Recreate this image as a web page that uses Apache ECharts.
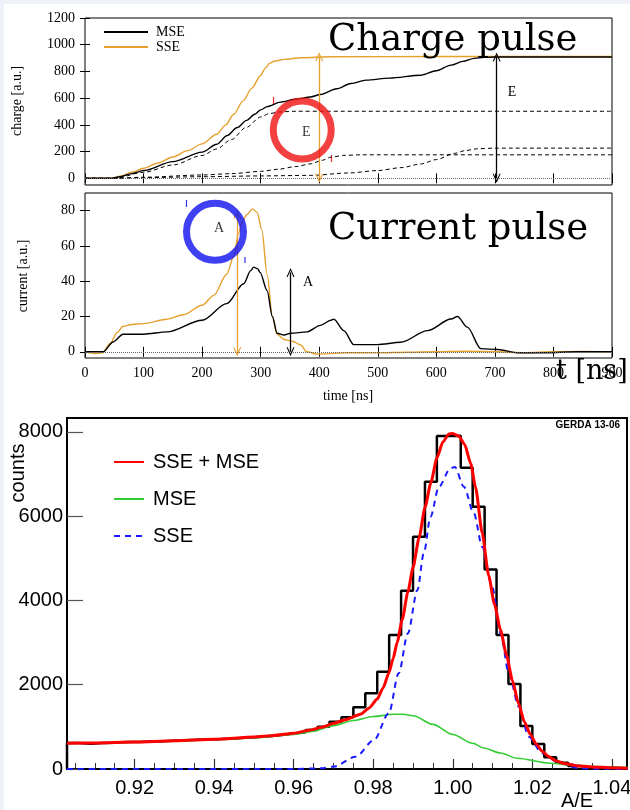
<!DOCTYPE html>
<html><head><meta charset="utf-8">
<script src="https://cdn.jsdelivr.net/npm/echarts@6/dist/echarts.min.js"></script>
<style>html,body{margin:0;padding:0;background:#fff;} #c{width:630px;height:810px;}</style>
</head><body><div id="c"></div>
<script>
// ---------- Panel 1: charge pulse (t [ns], charge [a.u.]) ----------
const chargeSSE = [[0,0],[45,0],[60,15],[80,45],[100,75],[125,115],[150,160],[175,207],[200,258],[225,330],[240,398],[254,480],[270,580],[285,675],[300,772],[308,825],[315,860],[325,878],[340,890],[370,903],[420,910],[600,912],[900,912]];
const chargeMSE = [[0,0],[45,0],[60,12],[80,35],[100,58],[150,125],[200,196],[225,255],[243,321],[260,380],[276,434],[290,480],[300,512],[311,537],[334,570],[360,592],[385,609],[402,627],[430,670],[454,710],[480,735],[520,750],[574,772],[600,805],[625,847],[645,875],[665,898],[682,905],[700,908],[900,908]];
const chargeComp1 = [[0,0],[50,0],[100,45],[150,100],[200,171],[225,220],[250,290],[275,380],[300,459],[315,485],[335,498],[360,502],[900,502]];
const chargeComp2 = [[0,0],[50,0],[100,8],[200,25],[250,35],[300,52],[330,68],[360,88],[385,108],[405,135],[420,158],[442,172],[470,176],[900,176]];
const chargeComp3 = [[0,0],[50,0],[100,5],[200,12],[300,18],[385,22],[450,40],[500,58],[540,80],[574,108],[600,140],[631,187],[650,208],[670,221],[700,226],[900,226]];
const chargeTicksY = [0,200,400,600,800,1000,1200];
const chargeArrows = [[400,0,910,'sse'],[703,0,908,'mse']];
const circleE = [371,362];

// ---------- Panel 2: current pulse ----------
const currentSSE = [[0,0],[20,-1],[30,-0.5],[43,4.7],[55,11],[65,14.5],[80,15.5],[100,16],[140,18.5],[168,21],[200,26.4],[220,32],[242,44],[254,54],[262,67],[270,75],[277,78],[286,81],[294,79],[302,69],[311,44],[320,20],[328,10],[340,7],[354,6],[368,4],[379,0],[397,-1.3],[420,-1],[450,-0.5],[500,-0.6],[550,-0.2],[600,0],[650,0.3],[700,0],[750,-0.5],[800,0],[850,0.2],[900,0]];
const currentMSE = [[0,0],[31,0],[48,5.6],[65,10],[100,10],[140,11.3],[200,17.9],[242,27.3],[271,38.6],[283,46],[288,48],[295,47],[299,45],[311,34.7],[320,20],[328,10.5],[340,9.5],[351,10.5],[379,11.3],[402,15],[420,17.9],[425,18.5],[442,12],[459,4.1],[499,4.1],[539,5.4],[585,12],[625,18.6],[636,20],[653,14],[676,1.8],[705,1.3],[739,-0.5],[785,-0.5],[842,0],[900,0]];
const currentTicksY = [0,20,40,60,80];
const currentArrows = [[260,0,78,'sse'],[351,0,45,'mse']];
const circleA = [222,68];

// ---------- Panel 3: A/E histogram ----------
const histLow = 0.903, histBinWidth = 0.003, histHigh = 1.044;
const histCounts = [615,600,615,625,640,640,655,660,670,680,695,700,710,725,740,760,780,805,840,870,
  925,1004,1122,1226,1463,1795,2308,3178,4229,5510,6815,7900,7910,7147,6222,4737,3178,2016,1020,593,277,150,70,35,20,10,5];
const fitTotal = [[0.903,610],[0.91,620],[0.92,640],[0.93,668],[0.94,705],[0.95,760],[0.955,795],[0.96,850],[0.9642,925],[0.967,990],[0.9701,1084],[0.973,1170],[0.9768,1300],[0.979,1450],[0.981,1660],[0.9825,1930],[0.9839,2270],[0.985,2620],[0.986,3000],[0.9873,3550],[0.9887,4200],[0.990,4780],[0.9915,5480],[0.993,6200],[0.9945,6800],[0.996,7380],[0.9975,7760],[0.999,7950],[1.0,7963],[1.0015,7900],[1.003,7700],[1.0045,7250],[1.0057,6700],[1.0074,5600],[1.009,4600],[1.0105,3900],[1.012,3300],[1.0135,2700],[1.015,2100],[1.0165,1560],[1.018,1120],[1.0195,820],[1.021,590],[1.0225,420],[1.024,300],[1.026,190],[1.028,130],[1.031,80],[1.035,50],[1.04,30],[1.044,20]];
const fitMSE = [[0.903,605],[0.92,635],[0.94,695],[0.95,740],[0.96,820],[0.965,900],[0.97,1030],[0.975,1150],[0.98,1245],[0.985,1300],[0.9875,1300],[0.99,1265],[0.995,1060],[1.0,820],[1.005,610],[1.0078,500],[1.012,380],[1.0162,254],[1.0245,135],[1.03,90],[1.035,60],[1.044,35]];
const fitSSE = [[0.903,0],[0.96,0],[0.9668,15],[0.97,55],[0.9756,292],[0.9802,688],[0.9839,1321],[0.9864,2270],[0.9887,3219],[0.9911,4246],[0.9927,5117],[0.9944,5985],[0.9965,6696],[0.9994,7133],[1.0005,7170],[1.0028,6696],[1.0053,6065],[1.0074,5273],[1.0099,4324],[1.012,3219],[1.0141,2270],[1.0166,1478],[1.0191,766],[1.0225,372],[1.0262,173],[1.0313,24],[1.036,5],[1.044,0]];
const aeTicksX = [0.92,0.94,0.96,0.98,1.00,1.02,1.04];
const aeMinorTicksX = [0.905,0.91,0.915,0.92,0.925,0.93,0.935,0.94,0.945,0.95,0.955,0.96,0.965,0.97,0.975,0.98,0.985,0.99,0.995,1.0,1.005,1.01,1.015,1.02,1.025,1.03,1.035,1.04];
const aeTicksY = [0,2000,4000,6000,8000];

// ---------- styling ----------
const ORANGE = '#e6a02e';
const SERIF = "'Liberation Serif', 'Times New Roman', serif";
const SANS = "'Liberation Sans', Arial, Helvetica, sans-serif";

const histPts = [[histLow,0]];
histCounts.forEach((c,i)=>histPts.push([+(histLow+i*histBinWidth).toFixed(3), c]));
histPts.push([histHigh, histCounts[histCounts.length-1]]);

const arrowHead = 'path://M0,10 L5,0 L10,10 L8.6,10 L5,3 L1.4,10 Z';
function arrowLines(list){
  return list.map(a=>{
    const col = a[3]==='sse'?ORANGE:'#000';
    return [{coord:[a[0],a[1]], symbol:arrowHead, symbolSize:[8,9], lineStyle:{color:col,width:1.3,type:'solid'}, itemStyle:{color:col}},
            {coord:[a[0],a[2]], symbol:arrowHead, symbolSize:[8,9]}];
  });
}
const plain = v => String(v);

function gpX(grid, pos, labels){
  return {type:'value', gridIndex:grid, position:pos, min:0, max:900, interval:100,
    axisLine:{show:false}, splitLine:{show:false},
    axisTick:{show:true, inside:true, length:5, lineStyle:{color:'#000', width:1}},
    axisLabel:{show:labels, margin:8, fontFamily:SERIF, fontSize:14, color:'#000', formatter:plain}};
}
function gpY(grid, pos, min, max, ticks, labels){
  return {type:'value', gridIndex:grid, position:pos, min:min, max:max,
    axisLine:{show:false}, splitLine:{show:false},
    axisTick:{show:true, inside:true, length:5, customValues:ticks, lineStyle:{color:'#000', width:1}},
    axisLabel:{show:labels, customValues:ticks, margin:10, fontFamily:SERIF, fontSize:14, color:'#000', formatter:plain}};
}

const lineBase = {type:'line', symbol:'none', showSymbol:false, silent:true, animation:false};

const option = {
  backgroundColor:'#fff',
  animation:false,
  grid:[
    {left:85, top:18, width:527, height:167, show:true, borderColor:'#000', borderWidth:1, backgroundColor:'transparent', outerBoundsMode:'none'},
    {left:85, top:193, width:527, height:165, show:true, borderColor:'#000', borderWidth:1, backgroundColor:'transparent', outerBoundsMode:'none'},
    {left:67, top:418, width:560, height:351, show:true, borderColor:'#000', borderWidth:2, backgroundColor:'transparent', outerBoundsMode:'none'}
  ],
  xAxis:[
    gpX(0,'bottom',false),
    gpX(0,'top',false),
    gpX(1,'bottom',true),
    gpX(1,'top',false),
    {type:'value', gridIndex:2, position:'bottom', min:histLow, max:1.0438,
      axisLine:{show:false}, splitLine:{show:false},
      axisTick:{show:true, inside:true, length:10, customValues:aeTicksX, lineStyle:{color:'#333', width:1.2}},
      axisLabel:{show:true, customValues:aeTicksX, margin:9, fontFamily:SANS, fontSize:20, color:'#000', formatter:v=>v.toFixed(2)}},
    {type:'value', gridIndex:2, position:'bottom', min:histLow, max:1.0438,
      axisLine:{show:false}, splitLine:{show:false},
      axisTick:{show:true, inside:true, length:6, customValues:aeMinorTicksX, lineStyle:{color:'#333', width:1}},
      axisLabel:{show:false}}
  ],
  yAxis:[
    gpY(0,'left',-50,1200,chargeTicksY,true),
    gpY(0,'right',-50,1200,chargeTicksY.slice(1),false),
    gpY(1,'left',-3.5,90,currentTicksY,true),
    gpY(1,'right',-3.5,90,currentTicksY,false),
    {type:'value', gridIndex:2, position:'left', min:0, max:8330,
      axisLine:{show:false}, splitLine:{show:false},
      axisTick:{show:true, inside:true, length:16, customValues:aeTicksY, lineStyle:{color:'#555', width:1.2}},
      axisLabel:{show:true, customValues:aeTicksY, margin:4, fontFamily:SANS, fontSize:20, color:'#000', formatter:plain}}
  ],
  legend:[
    {data:['MSE','SSE'], left:103, top:25, orient:'vertical', padding:0, itemWidth:44, itemHeight:14, itemGap:1,
      selectedMode:false, itemStyle:{opacity:0, borderWidth:0}, textStyle:{fontFamily:SERIF, fontSize:14, color:'#000', padding:[0,0,0,3]}},
    {data:['SSE + MSE','MSE fit','SSE fit'], left:113, top:452, orient:'vertical', padding:0, itemWidth:30, itemHeight:20, itemGap:17,
      selectedMode:false, itemStyle:{opacity:0, borderWidth:0}, formatter:n=>n.replace(' fit',''), textStyle:{fontFamily:SANS, fontSize:20, color:'#000', padding:[0,0,0,4]}}
  ],
  series:[
    // panel 1
    Object.assign({}, lineBase, {name:'MSE', xAxisIndex:0, yAxisIndex:0, data:chargeMSE, smooth:0.3, smoothMonotone:'x',
      lineStyle:{color:'#000', width:1.4}, itemStyle:{color:'#000'}, z:3,
      markLine:{silent:true, symbol:'none', label:{show:false}, animation:false,
        data:[{yAxis:0, lineStyle:{type:'dotted', color:'#666', width:1}}].concat(arrowLines(chargeArrows))}}),
    Object.assign({}, lineBase, {name:'SSE', xAxisIndex:0, yAxisIndex:0, data:chargeSSE, smooth:0.3, smoothMonotone:'x',
      lineStyle:{color:ORANGE, width:1.4}, itemStyle:{color:ORANGE}, z:2}),
    Object.assign({}, lineBase, {name:'comp1', xAxisIndex:0, yAxisIndex:0, data:chargeComp1, smooth:0.3, smoothMonotone:'x',
      lineStyle:{color:'#000', width:1, type:[4,3]}}),
    Object.assign({}, lineBase, {name:'comp2', xAxisIndex:0, yAxisIndex:0, data:chargeComp2, smooth:0.3, smoothMonotone:'x',
      lineStyle:{color:'#000', width:1, type:[4,3]}}),
    Object.assign({}, lineBase, {name:'comp3', xAxisIndex:0, yAxisIndex:0, data:chargeComp3, smooth:0.3, smoothMonotone:'x',
      lineStyle:{color:'#000', width:1, type:[4,3]}}),
    {type:'scatter', name:'circleE', xAxisIndex:0, yAxisIndex:0, data:[circleE], symbol:'circle', symbolSize:58, silent:true, z:10,
      itemStyle:{color:'rgba(0,0,0,0)', borderColor:'#f01010', borderWidth:7},
      label:{show:true, position:'inside', formatter:'E', fontFamily:SERIF, fontSize:14, color:'#000', offset:[4,2]}},
    // panel 2
    Object.assign({}, lineBase, {name:'MSE', xAxisIndex:2, yAxisIndex:2, data:currentMSE, smooth:0.3, smoothMonotone:'x',
      lineStyle:{color:'#000', width:1.4}, itemStyle:{color:'#000'}, z:3,
      markLine:{silent:true, symbol:'none', label:{show:false}, animation:false,
        data:[{yAxis:0, lineStyle:{type:'dotted', color:'#666', width:1}}].concat(arrowLines(currentArrows))}}),
    Object.assign({}, lineBase, {name:'SSE', xAxisIndex:2, yAxisIndex:2, data:currentSSE, smooth:0.3, smoothMonotone:'x',
      lineStyle:{color:ORANGE, width:1.4}, itemStyle:{color:ORANGE}, z:2}),
    {type:'scatter', name:'circleA', xAxisIndex:2, yAxisIndex:2, data:[circleA], symbol:'circle', symbolSize:57, silent:true, z:10,
      itemStyle:{color:'rgba(0,0,0,0)', borderColor:'#1010f0', borderWidth:7},
      label:{show:true, position:'inside', formatter:'A', fontFamily:SERIF, fontSize:14, color:'#000', offset:[4,-3]}},
    // panel 3
    Object.assign({}, lineBase, {name:'data', xAxisIndex:4, yAxisIndex:4, data:histPts, step:'end',
      lineStyle:{color:'#000', width:2.5}, z:2}),
    Object.assign({}, lineBase, {name:'MSE fit', xAxisIndex:4, yAxisIndex:4, data:fitMSE, smooth:0.3, smoothMonotone:'x',
      lineStyle:{color:'#33cc33', width:1.6}, itemStyle:{color:'#33cc33'}, z:3}),
    Object.assign({}, lineBase, {name:'SSE fit', xAxisIndex:4, yAxisIndex:4, data:fitSSE, smooth:0.3, smoothMonotone:'x',
      lineStyle:{color:'#1a1aff', width:2, type:[6,5]}, itemStyle:{color:'#1a1aff'}, z:4}),
    Object.assign({}, lineBase, {name:'SSE + MSE', xAxisIndex:4, yAxisIndex:4, data:fitTotal, smooth:0.2, smoothMonotone:'x',
      lineStyle:{color:'#ff0000', width:3}, itemStyle:{color:'#ff0000'}, z:5})
  ],
  graphic:[
    {type:'rect', shape:{x:0,y:0,width:630,height:4}, style:{fill:'#eef1f8'}, silent:true},
    {type:'rect', shape:{x:0,y:0,width:4,height:810}, style:{fill:'#eef1fa'}, silent:true},
    {type:'text', x:328, y:40, style:{text:'Charge pulse', font:"37px 'DejaVu Serif', serif", fill:'#000', verticalAlign:'middle'}, z:20},
    {type:'text', x:328, y:229, style:{text:'Current pulse', font:"37px 'DejaVu Serif', serif", fill:'#000', verticalAlign:'middle'}, z:20},
    {type:'text', x:556, y:372, style:{text:'t [ns]', font:"27px 'DejaVu Serif', serif", fill:'#000', verticalAlign:'middle'}, z:20},
    {type:'text', x:512, y:92, style:{text:'E', font:"14px 'Liberation Serif', serif", fill:'#000', align:'center', verticalAlign:'middle'}},
    {type:'text', x:308, y:282, style:{text:'A', font:"14px 'Liberation Serif', serif", fill:'#000', align:'center', verticalAlign:'middle'}},
    {type:'text', x:17, y:101, rotation:Math.PI/2, style:{text:'charge [a.u.]', font:"14px 'Liberation Serif', serif", fill:'#000', align:'center', verticalAlign:'middle'}},
    {type:'text', x:23, y:276, rotation:Math.PI/2, style:{text:'current [a.u.]', font:"14px 'Liberation Serif', serif", fill:'#000', align:'center', verticalAlign:'middle'}},
    {type:'text', x:348, y:396, style:{text:'time [ns]', font:"14px 'Liberation Serif', serif", fill:'#000', align:'center', verticalAlign:'middle'}},
    {type:'text', x:620, y:425, style:{text:'GERDA 13-06', font:"bold 10px 'Liberation Sans', Arial, sans-serif", fill:'#000', align:'right', verticalAlign:'middle'}},
    {type:'text', x:18, y:473, rotation:Math.PI/2, style:{text:'counts', font:"20px 'Liberation Sans', Arial, sans-serif", fill:'#000', align:'center', verticalAlign:'middle'}},
    {type:'text', x:577, y:801, style:{text:'A/E', font:"20px 'Liberation Sans', Arial, sans-serif", fill:'#000', align:'center', verticalAlign:'middle'}},
    {type:'line', shape:{x1:273.5,y1:97,x2:273.5,y2:105}, style:{stroke:'#f03030', lineWidth:1.2}},
    {type:'line', shape:{x1:331.5,y1:155,x2:331.5,y2:162}, style:{stroke:'#f03030', lineWidth:1.2}},
    {type:'line', shape:{x1:186.5,y1:200,x2:186.5,y2:207}, style:{stroke:'#3030f0', lineWidth:1.2}},
    {type:'line', shape:{x1:245,y1:257,x2:245,y2:263}, style:{stroke:'#3030f0', lineWidth:1.2}}
  ]
};
const chart = echarts.init(document.getElementById('c'), null, {renderer:'canvas'});
chart.setOption(option);
</script></body></html>
